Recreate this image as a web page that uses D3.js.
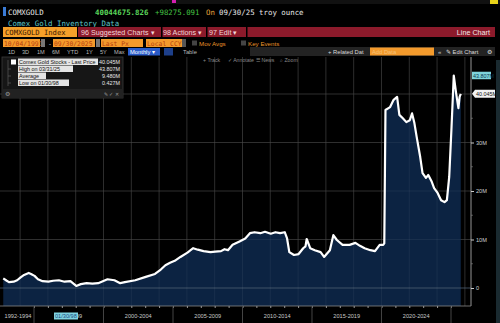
<!DOCTYPE html>
<html><head><meta charset="utf-8">
<script src="https://cdn.jsdelivr.net/npm/d3@7/dist/d3.min.js"></script>
<style>html,body{margin:0;padding:0;background:#000;overflow:hidden}svg{display:block}</style>
</head><body>
<script>
const dates = ["1992-10","1993-01","1993-03","1993-07","1993-10","1994-01","1994-04","1994-08","1994-10","1995-01","1995-04","1995-08","1996-01","1996-05","1996-10","1997-03","1997-08","1998-01","1998-05","1998-10","1999-03","1999-08","1999-10","2000-04","2000-10","2001-03","2001-07","2002-04","2003-01","2003-09","2004-02","2004-06","2004-10","2005-02","2005-07","2006-01","2006-06","2006-10","2007-03","2007-09","2008-01","2008-06","2008-09","2008-12","2009-04","2009-10","2010-03","2010-07","2010-11","2011-04","2011-08","2012-01","2012-05","2012-09","2013-01","2013-03","2013-05","2013-09","2014-01","2014-05","2014-07","2014-08","2014-11","2015-03","2015-08","2015-11","2016-04","2016-07","2016-10","2017-03","2017-09","2018-02","2018-06","2018-10","2019-03","2019-07","2019-11","2020-02","2020-03","2020-04","2020-08","2020-11","2021-02","2021-04","2021-07","2021-10","2022-01","2022-03","2022-05","2022-07","2022-10","2022-12","2023-03","2023-05","2023-08","2023-10","2024-01","2024-04","2024-07","2024-09","2024-11","2025-01","2025-03","2025-05","2025-07","2025-08","2025-09"];
const stocks = [2.0,1.5,1.2,1.3,1.6,2.2,2.7,3.1,2.9,2.5,1.8,1.4,1.3,1.5,1.6,1.3,1.4,0.43,0.8,1.0,0.9,1.0,1.2,1.8,1.6,1.0,1.2,1.6,2.3,2.9,3.8,4.7,5.2,5.6,6.4,7.3,8.2,7.9,7.6,7.4,7.5,7.6,8.0,7.8,8.9,9.6,10.2,11.3,11.5,11.3,11.6,11.2,11.5,11.3,11.5,10.3,7.4,6.8,7.0,8.2,8.6,10.1,8.2,7.8,7.4,6.4,7.8,10.9,9.9,8.9,8.9,9.3,8.7,8.2,7.8,7.6,8.9,8.9,9.2,36.7,37.3,38.8,39.4,35.7,35.0,34.2,34.6,36.0,34.0,31.1,27.0,23.7,22.7,23.3,21.9,20.6,19.6,18.1,17.7,18.1,22.9,33.2,43.807,40.2,37.1,39.4,40.045];
const yTicks = [0,10,20,30];
const yTickLabels = ["0","10M","20M","30M"];
const periodLabels = ["1992-1994","1995-1999","2000-2004","2005-2009","2010-2014","2015-2019","2020-2024"];
const periodStarts = [1990,1995,2000,2005,2010,2015,2020];
const legendRows = ["Comex Gold Stocks - Last Price","High on 03/31/25","Average","Low on 01/30/98"];
const legendVals = ["40.045M","43.807M","9.480M","0.427M"];
const lastLabel = "40.045M", highLabel = "43.807M";

const W=500,H=323;
const svg=d3.select("body").append("svg").attr("width",W).attr("height",H);
svg.append("rect").attr("width",W).attr("height",H).attr("fill","#000");
const mono="'DejaVu Sans Mono','Liberation Mono',monospace";
const sans="'Liberation Sans','Arial',sans-serif";

// top strip
svg.append("rect").attr("x",0).attr("y",0).attr("width",W).attr("height",4).attr("fill","#111");
svg.append("rect").attr("x",172).attr("y",0).attr("width",4).attr("height",3).attr("fill","#d21fb0");
svg.append("rect").attr("x",490).attr("y",0).attr("width",8).attr("height",4).attr("fill","#e8d21a");

// header row
svg.append("rect").attr("x",3).attr("y",7).attr("width",3).attr("height",9).attr("fill","#3a7bd5");
function t(x,y,s,fill,size,font,anchor){return svg.append("text").attr("x",x).attr("y",y).text(s).attr("fill",fill).attr("font-size",size).attr("font-family",font||mono).attr("text-anchor",anchor||"start");}
t(8,15,"COMXGOLD","#e6e6e6",7.4);
t(95,15,"40044675.826","#5bd65b",7.4).attr("font-weight","bold");
t(155,15,"+98275.091","#43c043",7.4);
t(206,15,"On","#e3a13b",7.4);
t(219,15,"09/30/25 troy ounce","#e6e6e6",7.4);
t(8,26,"Comex Gold Inventory Data","#5cc5c8",7.4);

// red bar row
svg.append("rect").attr("x",78).attr("y",27).attr("width",417).attr("height",10).attr("fill","#8c1a2b");
svg.append("rect").attr("x",3).attr("y",27).attr("width",74).attr("height",10).attr("fill","#f5a02a");
t(5,35,"COMXGOLD Index","#3a1500",7.2);
[[81,"96 Suggested Charts ▾"],[163,"98 Actions ▾"],[209,"97 Edit ▾"]].forEach(d=>{
  t(d[0],35,d[1],"#f2d6da",7.2,sans);
});
[161,206,246].forEach(x=>svg.append("rect").attr("x",x).attr("y",27).attr("width",1.5).attr("height",10).attr("fill","#000"));
t(490,35,"Line Chart","#f2e6e8",7.2,sans,"end");

// date row
function obox(x,w,s){svg.append("rect").attr("x",x).attr("y",39).attr("width",w).attr("height",8).attr("fill","#f39a2c");t(x+1,45.5,s,"#b6400e",6.4,mono);}
obox(3,37,"10/04/1991");
svg.append("rect").attr("x",41).attr("y",39).attr("width",4).attr("height",8).attr("fill","#777");
t(48,45.5,"-","#ccc",6.4);
obox(53,42,"09/30/2025");
svg.append("rect").attr("x",96).attr("y",39).attr("width",4).attr("height",8).attr("fill","#777");
obox(101,42,"Last Px");
obox(146,36,"Local CCY");
svg.append("rect").attr("x",182).attr("y",39).attr("width",4).attr("height",8).attr("fill","#555");
svg.append("rect").attr("x",192).attr("y",40.5).attr("width",5).attr("height",5).attr("fill","#444");
t(199,45.5,"Mov Avgs","#e8952a",6.2,sans);
svg.append("rect").attr("x",241).attr("y",40.5).attr("width",5).attr("height",5).attr("fill","#444");
t(248,45.5,"Key Events","#e8952a",6.2,sans);

// range row
svg.append("rect").attr("x",250).attr("y",47).attr("width",245).attr("height",9).attr("fill","#232323");
const ranges=["1D","3D","1M","6M","YTD","1Y","5Y","Max"];
const rx=[8,22,37,52,67,86,100,114];
ranges.forEach((r,i)=>t(rx[i],54,r,"#b8b8b8",5.6,sans));
svg.append("rect").attr("x",128).attr("y",48).attr("width",32).attr("height",7.5).attr("fill","#2a5bc8");
t(130,54,"Monthly ▾","#fff",5.8,sans);
svg.append("rect").attr("x",164).attr("y",48).attr("width",9).attr("height",7.5).attr("fill","#1d3f8a");
t(183,54,"Table","#b8b8b8",5.8,sans);
t(328,54,"+ Related Dat","#d8d8d8",5.8,sans);
svg.append("rect").attr("x",370).attr("y",47.5).attr("width",64).attr("height",8).attr("fill","#f39a2c");
t(372,54,"Add Data","#f6c27a",5.8,sans);
t(438,54,"«","#ccc",6,sans);
t(446,54,"✎ Edit Chart","#ddd",5.8,sans);
t(487,54,"⚙","#ddd",6,sans);

// plot area
const x=d3.scaleTime().domain([new Date(1995,0,1),new Date(2025,0,1)]).range([34,451]);
const y=d3.scaleLinear().domain([0,40]).range([288,94]);
const plotL=0,plotR=471,plotT=57,plotB=306;
const parse=d3.timeParse("%Y-%m");
const data=dates.map((d,i)=>({d:d3.timeDay.offset(parse(d),14),v:stocks[i]}));

const grid=svg.append("g");
for(let yr=1994;yr<=2026;yr+=2){const gx=x(new Date(yr,0,1));if(gx>plotL&&gx<plotR)grid.append("line").attr("x1",gx).attr("x2",gx).attr("y1",plotT).attr("y2",plotB).attr("stroke","#2c2c2c").attr("stroke-width",0.8);}
[10,20,30,40].forEach(v=>grid.append("line").attr("x1",plotL).attr("x2",plotR).attr("y1",y(v)).attr("y2",y(v)).attr("stroke","#2c2c2c").attr("stroke-width",0.8));

const area=d3.area().x(d=>x(d.d)).y0(plotB).y1(d=>y(d.v)).curve(d3.curveLinear);
const line=d3.line().x(d=>x(d.d)).y(d=>y(d.v));
svg.append("path").datum(data).attr("d",area).attr("fill","#0c2342");
svg.append("line").attr("x1",plotL).attr("x2",plotR).attr("y1",y(0)).attr("y2",y(0)).attr("stroke","#4d5d72").attr("stroke-width",0.8);
for(let yr=1994;yr<=2026;yr+=2){const gx=x(new Date(yr,0,1));if(gx>plotL&&gx<plotR)svg.append("line").attr("x1",gx).attr("x2",gx).attr("y1",plotT).attr("y2",plotB).attr("stroke","#ffffff").attr("stroke-opacity",0.07).attr("stroke-width",0.8);}
[10,20,30,40].forEach(v=>svg.append("line").attr("x1",plotL).attr("x2",plotR).attr("y1",y(v)).attr("y2",y(v)).attr("stroke","#fff").attr("stroke-opacity",0.07).attr("stroke-width",0.8));
svg.append("path").datum(data).attr("d",line).attr("fill","none").attr("stroke","#fff").attr("stroke-width",2.2).attr("stroke-linejoin","round");

// toolbar in plot
t(203,62,"+ Track","#8a8a8a",5.2,sans);
t(228,62,"✓ Annotate","#8a8a8a",5.2,sans);
t(256,62,"☰ News","#8a8a8a",5.2,sans);
t(280,62,"⌕ Zoom","#8a8a8a",5.2,sans);

// axes
svg.append("line").attr("x1",plotR).attr("x2",plotR).attr("y1",plotT).attr("y2",plotB).attr("stroke","#bbb").attr("stroke-width",0.8);
svg.append("line").attr("x1",plotL).attr("x2",plotR).attr("y1",plotB).attr("y2",plotB).attr("stroke","#888").attr("stroke-width",0.8);
const yAxis=svg.append("g").attr("transform",`translate(${plotR},0)`).call(d3.axisRight(y).tickValues(yTicks).tickFormat((d,i)=>yTickLabels[i]).tickSize(3).tickPadding(2));
yAxis.select(".domain").remove();
yAxis.selectAll("line").attr("stroke","#ccc");
yAxis.selectAll("text").attr("fill","#d0d0d0").attr("font-size",5.6).attr("font-family",sans);
[5,15,25,35].forEach(v=>svg.append("line").attr("x1",plotR).attr("x2",plotR+2).attr("y1",y(v)).attr("y2",y(v)).attr("stroke","#888").attr("stroke-width",0.6));

const xminor=svg.append("g").attr("transform",`translate(0,${plotB})`).call(d3.axisBottom(x).ticks(d3.timeYear.every(1)).tickFormat("").tickSize(2));
xminor.select(".domain").remove();
xminor.selectAll("line").attr("stroke","#999");
periodStarts.slice(1).concat([2025]).forEach(yr=>{const sx=x(new Date(yr,0,1));svg.append("line").attr("x1",sx).attr("x2",sx).attr("y1",plotB).attr("y2",H).attr("stroke","#444").attr("stroke-width",1);});
periodLabels.forEach((lab,i)=>{
  const a=Math.max(plotL,x(new Date(periodStarts[i]===1990?1992:periodStarts[i],0,1)));
  const b=x(new Date(periodStarts[i]+5,0,1));
  const cx=periodStarts[i]===1990?18:(a+b)/2;
  t(cx,318,lab,"#c8c8c8",5.6,sans,"middle");
});
svg.append("rect").attr("x",54).attr("y",312.5).attr("width",24).attr("height",7).attr("fill","#7fd3e0");
t(55,318,"01/30/98","#1a4a80",5.6,sans);

svg.append("rect").attr("x",plotR+1).attr("y",y(43.807)-3.8).attr("width",19).attr("height",7.5).attr("fill","#7fd3da");
t(plotR+2,y(43.807)+2,highLabel,"#0a3a50",5.4,sans);
svg.append("path").attr("d",`M${plotR+1},${y(40.045)} l3,-4 h20 v8 h-20 z`).attr("fill","#f2f2f2");
t(plotR+5,y(40.045)+2,lastLabel,"#111",5.4,sans);

svg.append("rect").attr("x",496).attr("y",60).attr("width",4).attr("height",263).attr("fill","#1a2a30");

// legend box
const lg=svg.append("g");
lg.append("rect").attr("x",2).attr("y",57).attr("width",121).attr("height",41).attr("fill","#161616").attr("stroke","#3a3a3a").attr("stroke-width",0.8);
lg.append("rect").attr("x",2).attr("y",89).attr("width",121).attr("height",9).attr("fill","#222");
lg.append("rect").attr("x",11).attr("y",59.5).attr("width",5).attr("height",5).attr("fill","#fff");
const ly=[64,71,78,85];
const lw=[80,55,28,51];
legendRows.forEach((r,i)=>{
  lg.append("rect").attr("x",18).attr("y",ly[i]-5.5).attr("width",lw[i]).attr("height",6.5).attr("fill","#e4e4e4");
  lg.append("text").attr("x",19).attr("y",ly[i]).text(r).attr("fill","#111").attr("font-size",5.4).attr("font-family",sans);
  lg.append("text").attr("x",120).attr("y",ly[i]).text(legendVals[i]).attr("fill","#e6e6e6").attr("font-size",5.4).attr("font-family",sans).attr("text-anchor","end");
});
lg.append("path").attr("d","M8,60 v26 M8,69 h3 M8,76 h3 M8,83 h3").attr("stroke","#666").attr("stroke-width",0.6).attr("fill","none");
t(5,95.5,"⚙","#999",5.5,sans);
t(104,95.5,"✎ ✓ ✕","#999",5,sans);
</script>
</body></html>
